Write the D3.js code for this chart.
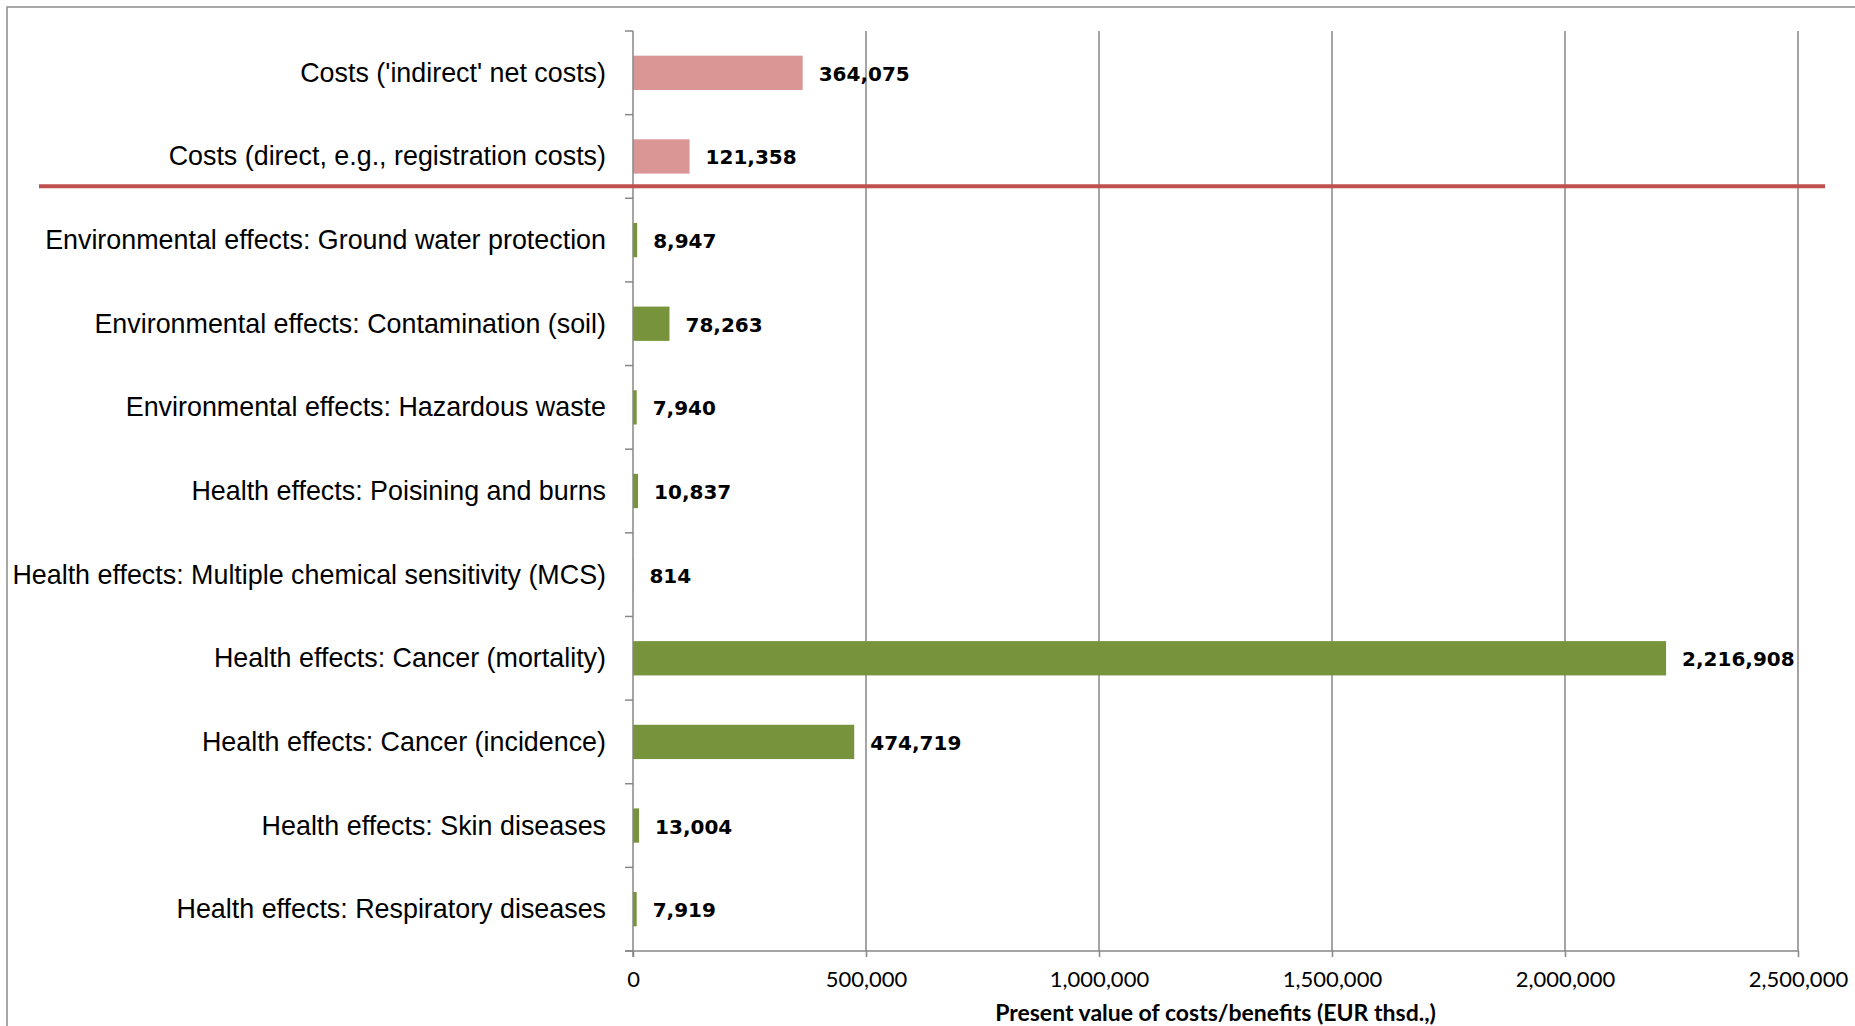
<!DOCTYPE html>
<html>
<head>
<meta charset="utf-8">
<script src="https://cdn.jsdelivr.net/npm/d3@7"></script>
<style>
  html, body { margin: 0; padding: 0; background: #fff; }
  svg { display: block; }
  .cat { font-family: "Liberation Sans Narrow", "Arial Narrow", "Liberation Sans", sans-serif; font-size: 25px; fill: #000; }
  .val { font-family: "DejaVu Sans", Verdana, sans-serif; font-weight: bold; font-size: 20px; fill: #000; }
  .tick-label { font-family: Lato, "Open Sans", sans-serif; font-size: 22px; fill: #000; }
  .axis-title { font-family: Lato, "Open Sans", sans-serif; font-weight: bold; font-size: 23px; fill: #000; }
</style>
</head>
<body>
<svg id="chart" width="1855" height="1026"></svg>
<script>
// Cost/benefit categories, top to bottom
const categories = [
  "Costs ('indirect' net costs)",
  "Costs (direct, e.g., registration costs)",
  "Environmental effects: Ground water protection",
  "Environmental effects: Contamination (soil)",
  "Environmental effects: Hazardous waste",
  "Health effects: Poisining and burns",
  "Health effects: Multiple chemical sensitivity (MCS)",
  "Health effects: Cancer (mortality)",
  "Health effects: Cancer (incidence)",
  "Health effects: Skin diseases",
  "Health effects: Respiratory diseases"
];
// Present value, EUR thousand
const values = [364075, 121358, 8947, 78263, 7940, 10837, 814, 2216908, 474719, 13004, 7919];
// "cost" or "benefit" for each category
const kinds = ["cost", "cost", "benefit", "benefit", "benefit", "benefit", "benefit", "benefit", "benefit", "benefit", "benefit"];
const xTicks = [0, 500000, 1000000, 1500000, 2000000, 2500000];
const xTitle = "Present value of costs/benefits (EUR thsd.,)";

const svg = d3.select("#chart");
const W = 1855, H = 1026;
const plot = { left: 633, right: 1798, top: 31, bottom: 951 };
const gridColor = "#878787";
const colors = { cost: "#d99694", benefit: "#77933c" };

// outer chart frame
svg.append("rect")
  .attr("x", 7).attr("y", 7)
  .attr("width", W + 10).attr("height", H + 10)
  .attr("fill", "none").attr("stroke", "#8c8c8c").attr("stroke-width", 1.5);

const x = d3.scaleLinear().domain([0, 2500000]).range([plot.left, plot.right]);
const y = d3.scaleBand().domain(categories).range([plot.top, plot.bottom]).padding(0);
const barH = y.bandwidth() * 0.41;

// vertical gridlines
svg.append("g").selectAll("line")
  .data(xTicks.slice(1))
  .join("line")
  .attr("x1", d => x(d)).attr("x2", d => x(d))
  .attr("y1", plot.top).attr("y2", plot.bottom)
  .attr("stroke", gridColor).attr("stroke-width", 1.5);

// bars
svg.append("g").selectAll("rect")
  .data(categories)
  .join("rect")
  .attr("x", x(0))
  .attr("y", d => y(d) + (y.bandwidth() - barH) / 2)
  .attr("width", (d, i) => x(values[i]) - x(0))
  .attr("height", barH)
  .attr("fill", (d, i) => colors[kinds[i]]);

// value labels
const fmt = d3.format(",");
svg.append("g").selectAll("text")
  .data(categories)
  .join("text")
  .attr("class", "val")
  .attr("x", (d, i) => x(values[i]) + 16)
  .attr("y", d => y(d) + y.bandwidth() / 2 + 1)
  .attr("dominant-baseline", "central")
  .text((d, i) => fmt(values[i]));

// y axis line and tick marks on band boundaries
svg.append("line")
  .attr("x1", plot.left).attr("x2", plot.left)
  .attr("y1", plot.top).attr("y2", plot.bottom + 6)
  .attr("stroke", gridColor).attr("stroke-width", 1.5);
const boundaries = categories.map(c => y(c)).concat([plot.bottom]);
svg.append("g").selectAll("line")
  .data(boundaries)
  .join("line")
  .attr("x1", plot.left - 8).attr("x2", plot.left)
  .attr("y1", d => d).attr("y2", d => d)
  .attr("stroke", gridColor).attr("stroke-width", 1.5);

// category labels, sized so the longest one spans the label column
const catLabels = svg.append("g").selectAll("text")
  .data(categories)
  .join("text")
  .attr("class", "cat")
  .attr("x", plot.left - 27)
  .attr("y", d => y(d) + y.bandwidth() / 2)
  .attr("text-anchor", "end")
  .attr("dominant-baseline", "central")
  .text(d => d);
let widest = 0;
catLabels.each(function () { widest = Math.max(widest, this.getComputedTextLength()); });
const catSize = 25 * 594 / widest;
catLabels.style("font-size", catSize + "px");

// x axis
const xAxis = d3.axisBottom(x).tickValues(xTicks).tickSize(6).tickSizeOuter(0).tickFormat(fmt);
const gx = svg.append("g").attr("transform", `translate(0,${plot.bottom})`).call(xAxis);
gx.attr("font-family", null).attr("font-size", null);
gx.select(".domain").attr("stroke", gridColor).attr("stroke-width", 1.5)
  .attr("d", `M${plot.left - 8},0H${plot.right}`);
gx.selectAll(".tick line").attr("stroke", gridColor).attr("stroke-width", 1.5);
gx.selectAll(".tick text")
  .attr("class", "tick-label")
  .attr("y", 28)
  .attr("dy", "0.35em");

// axis title
svg.append("text")
  .attr("class", "axis-title")
  .attr("x", (plot.left + plot.right) / 2)
  .attr("y", 1012)
  .attr("text-anchor", "middle")
  .attr("dominant-baseline", "central")
  .text(xTitle);

// separator between costs and benefits
const sepY = y(categories[2]) - 12;
svg.append("line")
  .attr("x1", 39).attr("x2", 1825)
  .attr("y1", sepY).attr("y2", sepY)
  .attr("stroke", "#c0504d").attr("stroke-width", 4);
</script>
</body>
</html>
